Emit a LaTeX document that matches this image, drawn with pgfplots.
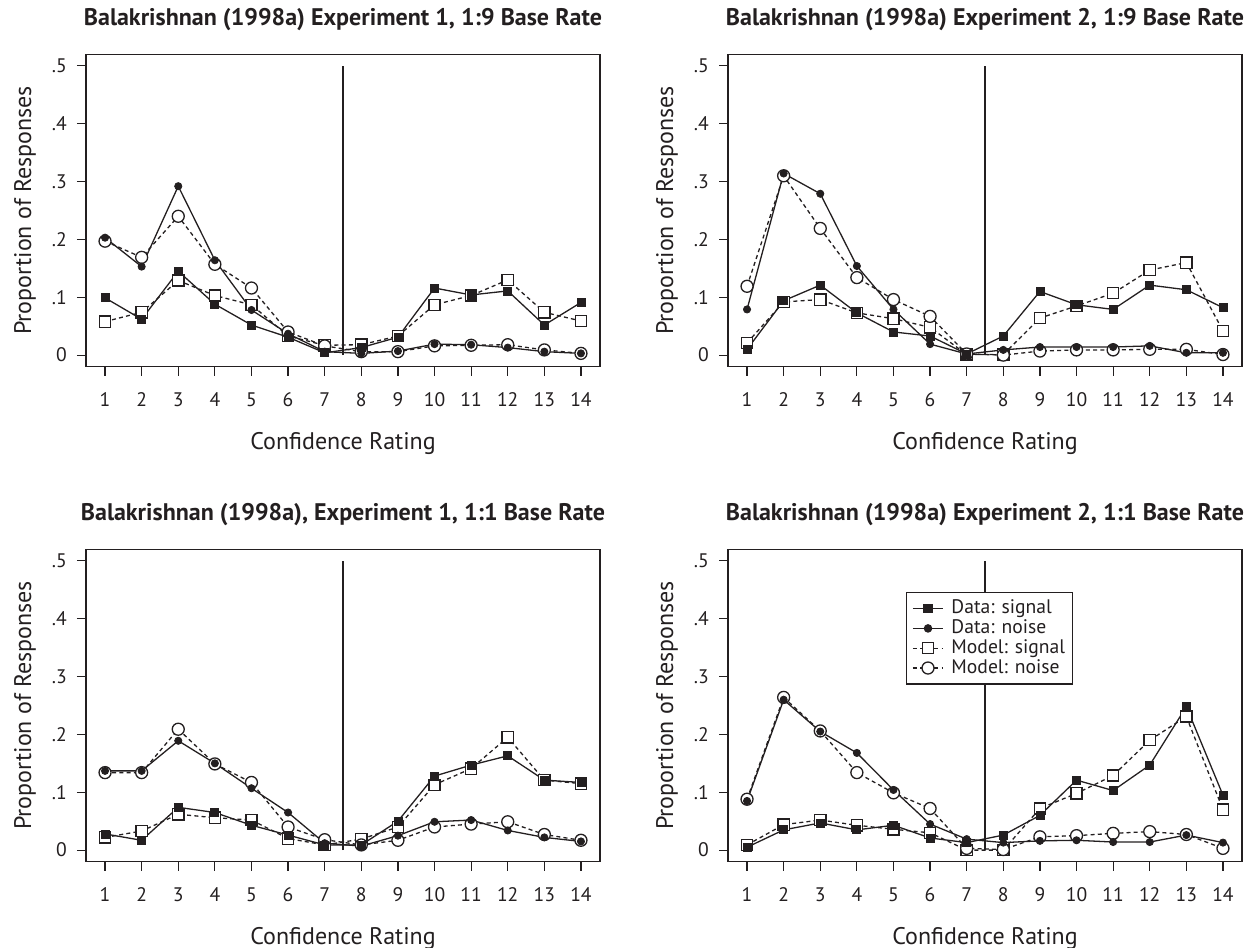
\documentclass[border=0pt]{standalone}
\usepackage{fontspec}
\setmainfont{PT Sans}
\usepackage{pgfplots}
\usepackage{pgfplotstable}
\pgfplotsset{compat=1.18}
\definecolor{ink}{RGB}{35,31,32}

% columns: rating, data signal, data noise, model signal, model noise
\pgfplotstableread{
x ds dn ms mn
1 0.099 0.203 0.058 0.197
2 0.062 0.153 0.074 0.169
3 0.145 0.292 0.129 0.240
4 0.088 0.164 0.103 0.157
5 0.052 0.078 0.087 0.116
6 0.031 0.037 0.033 0.040
7 0.004 0.006 0.017 0.016
8 0.013 0.003 0.018 0.006
9 0.031 0.007 0.033 0.006
10 0.116 0.019 0.087 0.016
11 0.104 0.018 0.103 0.017
12 0.111 0.013 0.130 0.018
13 0.052 0.006 0.074 0.009
14 0.091 0.003 0.059 0.003
}\expAnine

\pgfplotstableread{
x ds dn ms mn
1 0.010 0.079 0.021 0.119
2 0.094 0.314 0.092 0.310
3 0.121 0.279 0.096 0.219
4 0.073 0.154 0.073 0.134
5 0.040 0.079 0.063 0.096
6 0.033 0.019 0.048 0.067
7 0.002 0.002 0.001 0.002
8 0.033 0.009 0.001 0.000
9 0.110 0.014 0.064 0.007
10 0.087 0.014 0.085 0.009
11 0.079 0.014 0.107 0.009
12 0.121 0.016 0.147 0.010
13 0.113 0.004 0.160 0.010
14 0.082 0.004 0.042 0.001
}\expBnine

\pgfplotstableread{
x ds dn ms mn
1 0.028 0.137 0.022 0.134
2 0.017 0.137 0.033 0.134
3 0.074 0.189 0.062 0.209
4 0.065 0.150 0.056 0.149
5 0.043 0.107 0.052 0.117
6 0.026 0.065 0.020 0.040
7 0.009 0.012 0.009 0.018
8 0.009 0.007 0.019 0.009
9 0.050 0.025 0.040 0.017
10 0.128 0.049 0.113 0.040
11 0.147 0.052 0.141 0.045
12 0.163 0.034 0.195 0.049
13 0.121 0.022 0.121 0.027
14 0.117 0.015 0.115 0.017
}\expAone

\pgfplotstableread{
x ds dn ms mn
1 0.005 0.085 0.009 0.088
2 0.035 0.260 0.044 0.264
3 0.047 0.205 0.052 0.206
4 0.035 0.168 0.043 0.134
5 0.043 0.104 0.036 0.099
6 0.021 0.045 0.030 0.072
7 0.013 0.019 0.000 0.003
8 0.026 0.013 0.000 0.001
9 0.060 0.016 0.072 0.023
10 0.121 0.017 0.098 0.025
11 0.103 0.014 0.129 0.029
12 0.147 0.014 0.190 0.032
13 0.248 0.026 0.231 0.027
14 0.095 0.013 0.070 0.003
}\expBone

\pgfplotsset{
  panel/.style={
    scale only axis, width=257pt, height=156.2pt,
    xmin=0.48, xmax=14.52, ymin=-0.02, ymax=0.52,
    xtick={1,2,3,4,5,6,7,8,9,10,11,12,13,14},
    xticklabels={1,2,3,4,5,6,7,8,9,10,11,12,13,14},
    ytick={0,0.1,0.2,0.3,0.4,0.5},
    yticklabels={0,.1,.2,.3,.4,.5},
    /pgf/number format/assume math mode=true,
    tick align=outside, tick pos=left, major tick length=4.5pt,
    axis line style={line width=0.6pt, ink},
    every tick/.style={line width=0.6pt, ink},
    tick label style={font=\fontsize{9.8}{11}\selectfont, text=ink, inner sep=0pt},
    xticklabel style={anchor=base, yshift=-15.2pt},
    yticklabel style={anchor=east, xshift=-4.9pt},
    xlabel={Confidence Rating}, ylabel={Proportion of Responses},
    label style={font=\fontsize{12}{14}\selectfont, text=ink},
    xlabel style={at={(axis description cs:0.5,0)}, anchor=base, yshift=-41.3pt},
    ylabel style={at={([xshift=-30.5pt]axis description cs:0,0.5)}, anchor=center},
    title style={at={(axis description cs:0.5,1)}, anchor=base, yshift=8.2pt,
      font=\fontsize{12}{14}\selectfont\bfseries, text=ink},
  },
  dataline/.style={ink, line width=0.65pt, forget plot},
  modelline/.style={ink, line width=0.65pt, dash pattern=on 2pt off 1.6pt, forget plot},
  dsq/.style={only marks, mark=square*, mark size=2pt, forget plot,
    mark options={solid, fill=ink, draw=ink, line width=0.4pt}},
  dci/.style={only marks, mark=*, mark size=1.8pt, forget plot,
    mark options={solid, fill=ink, draw=ink, line width=0.4pt}},
  msq/.style={only marks, mark=square*, mark size=2.8pt, forget plot,
    mark options={solid, fill=white, draw=ink, line width=0.65pt}},
  mci/.style={only marks, mark=*, mark size=3pt, forget plot,
    mark options={solid, fill=white, draw=ink, line width=0.65pt}},
}

% one panel: lines first, then open model marks, then filled data marks
\newcommand{\drawpanel}[1]{%
  \addplot[dataline] coordinates {(7.5,0) (7.5,0.5)};
  \addplot[dataline] table[x=x, y=ds] {#1};
  \addplot[dataline] table[x=x, y=dn] {#1};
  \addplot[modelline] table[x=x, y=ms] {#1};
  \addplot[modelline] table[x=x, y=mn] {#1};
  \addplot[msq] table[x=x, y=ms] {#1};
  \addplot[mci] table[x=x, y=mn] {#1};
  \addplot[dsq] table[x=x, y=ds] {#1};
  \addplot[dci] table[x=x, y=dn] {#1};
}

\begin{document}
\begin{tikzpicture}
\useasboundingbox (0,0) rectangle (630pt,474pt);

\begin{axis}[panel, at={(43pt,290.65pt)}, anchor=south west,
  title={Balakrishnan (1998a) Experiment 1, 1:9 Base Rate}]
  \drawpanel{\expAnine}
\end{axis}

\begin{axis}[panel, at={(364pt,290.65pt)}, anchor=south west,
  title={Balakrishnan (1998a) Experiment 2, 1:9 Base Rate}]
  \drawpanel{\expBnine}
\end{axis}

\begin{axis}[panel, at={(43pt,43.15pt)}, anchor=south west,
  title={Balakrishnan (1998a), Experiment 1, 1:1 Base Rate}]
  \drawpanel{\expAone}
\end{axis}

\begin{axis}[panel, at={(364pt,43.15pt)}, anchor=south west,
  title={Balakrishnan (1998a) Experiment 2, 1:1 Base Rate},
  legend cell align=left,
  legend image code/.code={%
    \draw[mark repeat=2, mark phase=2] plot coordinates {(0pt,0pt) (7.6pt,0pt) (15.2pt,0pt)};},
  legend style={at={(axis cs:5.33,0.446)}, anchor=north west,
    draw=ink, line width=0.6pt, fill=white, text=ink,
    font=\fontsize{9.8}{10}\selectfont,
    inner xsep=3pt, inner ysep=3pt,
    /tikz/every odd column/.style={column sep=3.2pt},
    nodes={inner sep=0.6pt, text height=6.9pt, text depth=1.8pt}}]
  \drawpanel{\expBone}
  \addlegendimage{ink, line width=0.65pt, mark=square*, mark size=2pt, mark options={solid, fill=ink}}
  \addlegendentry{Data: signal}
  \addlegendimage{ink, line width=0.65pt, mark=*, mark size=1.8pt, mark options={solid, fill=ink}}
  \addlegendentry{Data: noise}
  \addlegendimage{ink, line width=0.65pt, dash pattern=on 2pt off 1.6pt, mark=square*, mark size=2.8pt, mark options={solid, fill=white, line width=0.65pt}}
  \addlegendentry{Model: signal}
  \addlegendimage{ink, line width=0.65pt, dash pattern=on 2pt off 1.6pt, mark=*, mark size=3pt, mark options={solid, fill=white, line width=0.65pt}}
  \addlegendentry{Model: noise}
\end{axis}
\end{tikzpicture}
\end{document}
